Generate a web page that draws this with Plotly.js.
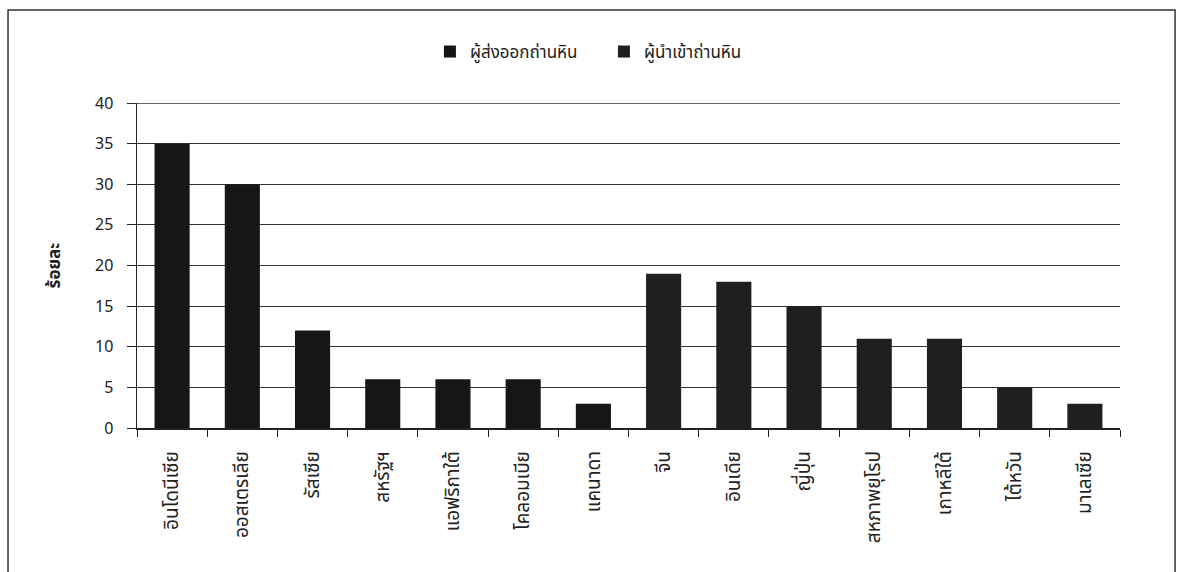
<!DOCTYPE html>
<html>
<head>
<meta charset="utf-8">
<script src="https://cdn.plot.ly/plotly-3.0.1.min.js"></script>
<style>html,body{margin:0;padding:0;background:#fff;}#chart{width:1180px;height:572px;}</style>
</head>
<body>
<div id="chart"></div>
<script>
const exporterCountries = ["อินโดนีเซีย","ออสเตรเลีย","รัสเซีย","สหรัฐฯ","แอฟริกาใต้","โคลอมเบีย","แคนาดา"];
const exporterShare = [35, 30, 12, 6, 6, 6, 3];
const importerCountries = ["จีน","อินเดีย","ญี่ปุ่น","สหภาพยุโรป","เกาหลีใต้","ไต้หวัน","มาเลเซีย"];
const importerShare = [19, 18, 15, 11, 11, 5, 3];
const seriesNames = ["ผู้ส่งออกถ่านหิน","ผู้นำเข้าถ่านหิน"];
const yTicks = [0,5,10,15,20,25,30,35,40];

const font = "Tahoma, 'Noto Sans Thai', 'Noto Sans', 'DejaVu Sans', sans-serif";
const data = [
  {type:"bar", name:seriesNames[0], x:exporterCountries, y:exporterShare, marker:{color:"#161616"}},
  {type:"bar", name:seriesNames[1], x:importerCountries, y:importerShare, marker:{color:"#1f1f1f"}}
];
const layout = {
  width:1180, height:572,
  margin:{l:137, r:60, t:103, b:144},
  paper_bgcolor:"#fff", plot_bgcolor:"#fff",
  font:{family:font, color:"#222", size:14},
  barmode:"overlay", bargap:0.5,
  showlegend:true,
  legend:{orientation:"h", x:0.475, xanchor:"center", y:1.157, yanchor:"middle", bgcolor:"rgba(0,0,0,0)",
    font:{size:17}, traceorder:"normal", entrywidth:129, entrywidthmode:"pixels"},
  xaxis:{type:"category", categoryorder:"array", categoryarray:exporterCountries.concat(importerCountries),
    tickangle:-90, tickson:"boundaries", ticks:"outside", ticklen:7, tickcolor:"#222",
    ticklabelstandoff:14,
    showline:true, linecolor:"#222", linewidth:1.5, showgrid:false, tickfont:{size:19}, fixedrange:true},
  yaxis:{range:[0,40], tickvals:yTicks, ticks:"outside", ticklen:9, tickcolor:"#222",
    ticklabelstandoff:10,
    showline:true, linecolor:"#222", linewidth:1.5, showgrid:true, gridcolor:"#333", gridwidth:1,
    zeroline:false, tickfont:{size:16}, title:{text:"<b>ร้อยละ</b>", font:{size:17}, standoff:30}},
  shapes:[
    {type:"rect", xref:"paper", yref:"paper", x0:-0.1312, x1:1.056, y0:-0.46, y1:1.286,
      line:{color:"#333", width:1.5}, fillcolor:"rgba(0,0,0,0)"},
    {type:"line", xref:"paper", yref:"y", x0:-0.009, x1:1, y0:40, y1:40, line:{color:"#333", width:1.5}}
  ]
};
Plotly.newPlot("chart", data, layout, {displayModeBar:false, staticPlot:true});
</script>
</body>
</html>
